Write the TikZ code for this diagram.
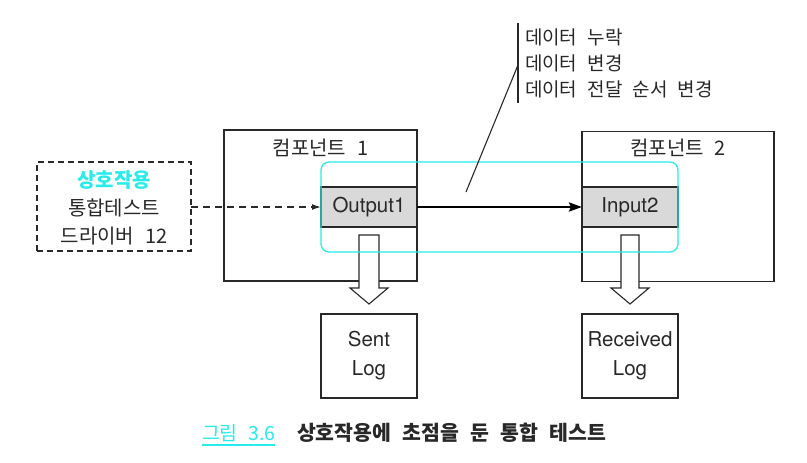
\documentclass[tikz,border=0pt]{standalone}
\usepackage{fontspec}
\setmainfont{TeX Gyre Heros}
\newfontfamily\kr[WordSpace=2.4]{Noto Sans CJK KR}
\usetikzlibrary{arrows.meta,calc}
\definecolor{cy}{RGB}{40,235,235}
\definecolor{ln}{RGB}{40,40,40}
\definecolor{boxgray}{RGB}{217,217,217}
\begin{document}
\begin{tikzpicture}[x=1pt,y=-1pt,
  every node/.style={inner sep=0pt, outer sep=0pt, text=ln},
  box/.style={draw=ln, line width=1.1pt, fill=white},
  portbox/.style={draw=ln, line width=1.1pt, fill=boxgray, minimum width=96pt, minimum height=40pt,
    font=\fontsize{20.5}{24}\selectfont},
  logbox/.style={draw=ln, line width=1.1pt, minimum width=96pt, minimum height=84pt, align=center,
    font=\fontsize{20.5}{29}\selectfont},
  krtext/.style={font=\kr\fontsize{20}{23}\selectfont},
  anntext/.style={font=\kr\fontsize{19}{22}\selectfont, anchor=west},
  blockarrow/.style={draw=ln, line width=1.1pt, fill=white, line join=miter},
  dasharrow/.style={draw=ln, line width=1.3pt, dash pattern=on 7pt off 5pt, -{Latex[length=9pt,width=6pt]}},
  mainarrow/.style={draw=black, line width=2.6pt, -{Stealth[length=13pt,width=9pt,inset=2pt]}},
  cyanframe/.style={draw=cy, line width=1.3pt, rounded corners=8pt}
]
\useasboundingbox (0,0) rectangle (807,463);

% component boxes
\node[box, minimum width=193pt, minimum height=151pt] (comp1) at (320.5,205.5) {};
\node[box, minimum width=192pt, minimum height=150pt] (comp2) at (678,206.5) {};
\node[krtext] (title1) at (320.5,148) {컴포넌트 1};
\node[krtext] (title2) at (678,148) {컴포넌트 2};

% ports
\node[portbox] (out1) at (369,207) {Output1};
\node[portbox] (in2) at (630,207) {Input2};

% block arrows
\draw[blockarrow] ($(out1.south)+(-10,8)$) -- ++(20,0) -- ++(0,53) -- ++(9,0) -- ++(-19,16) -- ++(-19,-16) -- ++(9,0) -- cycle;
\draw[blockarrow] ($(in2.south)+(-9,8)$) -- ++(18,0) -- ++(0,53) -- ++(10,0) -- ++(-19,16) -- ++(-19,-16) -- ++(10,0) -- cycle;

% interaction frame
\node[cyanframe, minimum width=357pt, minimum height=90pt] (frame) at (499.5,207) {};

% log boxes
\node[logbox] (sent) at (369,356) {Sent\\Log};
\node[logbox] (recv) at (630,356) {Received\\Log};

% driver
\node[draw=ln, line width=1.1pt, dash pattern=on 6pt off 4pt, minimum width=154pt, minimum height=89pt] (driver) at (114,206.5) {};
\node[krtext, text=cy, font=\kr\bfseries\fontsize{20}{23}\selectfont] (d1) at (114,180) {상호작용};
\node[krtext] (d2) at (114,208) {통합테스트};
\node[krtext] (d3) at (114,236) {드라이버 12};

% connectors
\draw[dasharrow] (driver.east |- out1.west) -- (out1.west);
\draw[mainarrow] (out1.east) -- (in2.west);

% annotation
\coordinate (annTop) at (518,23);
\coordinate (annBot) at (518,103);
\coordinate (annMid) at (518,65);
\coordinate (annTip) at (466,192);
\draw[ln, line width=1.1pt] (annTop) -- (annBot);
\draw[ln, line width=1.1pt] (annMid) -- (annTip);
\node[anntext] (a1) at (525,37) {데이터 누락};
\node[anntext] (a2) at (525,63) {데이터 변경};
\node[anntext] (a3) at (525,89) {데이터 전달 순서 변경};

% caption
\node[anchor=west, text=cy, font=\kr\fontsize{19.5}{23}\selectfont] (fig) at (202,433) {그림 3.6};
\draw[cy, line width=1.4pt] (fig.west |- 0,445) -- (fig.east |- 0,445);
\node[anchor=west, font=\kr\bfseries\fontsize{20.5}{23}\selectfont] (cap) at (297,433) {상호작용에 초점을 둔 통합 테스트};
\end{tikzpicture}
\end{document}
